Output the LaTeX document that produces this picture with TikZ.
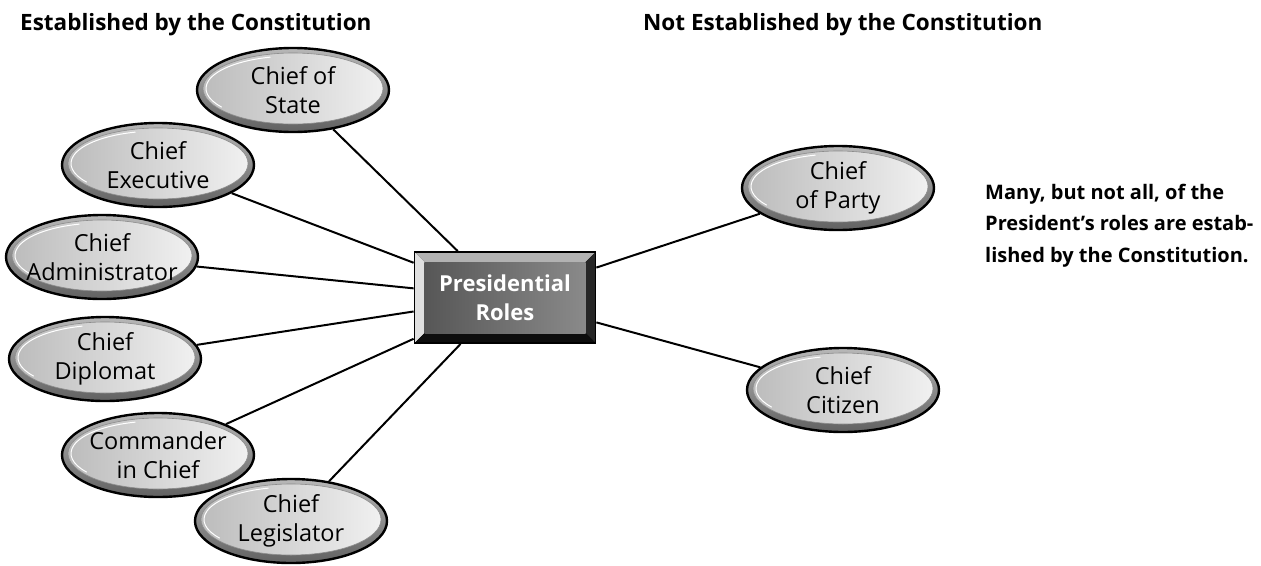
\documentclass[tikz,border=0pt]{standalone}
\usepackage{fontspec}
\setmainfont{Open Sans}
\usetikzlibrary{shapes.geometric}
\tikzset{
  roleoval/.style={ellipse, draw=black, line width=2.4pt,
    minimum width=192pt, minimum height=84pt, inner xsep=-25pt, inner ysep=-12pt,
    align=center, font=\fontsize{23.5}{28.5}\selectfont,
    top color=black!28, bottom color=black!62,
    path picture={
      \draw[black!45, line width=0.6pt, left color=black!27, right color=black!5]
        ([yshift=1.5pt]path picture bounding box.center) ellipse [x radius=90pt, y radius=35.5pt];
      \draw[white, line width=1pt]
        ([yshift=1.5pt, shift={(105:87pt and 32.5pt)}]path picture bounding box.center)
        arc [start angle=105, end angle=215, x radius=87pt, y radius=32.5pt];
    }},
  rolebox/.style={rectangle, draw=black, line width=1.8pt, fill=black,
    minimum width=181pt, minimum height=91pt, inner sep=0pt,
    align=center, text=white, font=\bfseries\fontsize{22}{29}\selectfont,
    path picture={
      \fill[black!12] (path picture bounding box.north west) -- (path picture bounding box.south west)
        -- ([shift={(10pt,10pt)}]path picture bounding box.south west)
        -- ([shift={(10pt,-10pt)}]path picture bounding box.north west) -- cycle;
      \fill[black!30] (path picture bounding box.north west) -- (path picture bounding box.north east)
        -- ([shift={(-10pt,-10pt)}]path picture bounding box.north east)
        -- ([shift={(10pt,-10pt)}]path picture bounding box.north west) -- cycle;
      \fill[black!85] (path picture bounding box.north east) -- (path picture bounding box.south east)
        -- ([shift={(-10pt,10pt)}]path picture bounding box.south east)
        -- ([shift={(-10pt,-10pt)}]path picture bounding box.north east) -- cycle;
      \fill[black!95] (path picture bounding box.south west) -- (path picture bounding box.south east)
        -- ([shift={(-10pt,10pt)}]path picture bounding box.south east)
        -- ([shift={(10pt,10pt)}]path picture bounding box.south west) -- cycle;
      \shade[left color=black!66, right color=black!46]
        ([shift={(10pt,-10pt)}]path picture bounding box.north west) rectangle
        ([shift={(-10pt,10pt)}]path picture bounding box.south east);
    }},
  link/.style={line width=2pt, black},
  heading/.style={font=\bfseries\fontsize{22.5}{26}\selectfont, anchor=base west, inner sep=0pt},
  note/.style={font=\bfseries\fontsize{20}{31.5}\selectfont, anchor=base west, inner sep=0pt, align=left},
}
\begin{document}
\begin{tikzpicture}[x=1pt, y=-1pt]
  \useasboundingbox (0,0) rectangle (1261,565);
  \node[heading] (h1) at (20,30) {Established by the Constitution};
  \node[heading] (h2) at (643,30) {Not Established by the Constitution};

  \node[rolebox] (box) at (505,297.5) {Presidential\\Roles};

  \node[roleoval] (state) at (293,90) {Chief of\\State};
  \node[roleoval] (exec) at (158,165) {Chief\\Executive};
  \node[roleoval] (admin) at (102,257) {Chief\\Administrator};
  \node[roleoval] (dipl) at (105,359) {Chief\\Diplomat};
  \node[roleoval] (cmd) at (158,455) {Commander\\in Chief};
  \node[roleoval] (legis) at (291,521) {Chief\\Legislator};
  \node[roleoval] (party) at (838,188) {Chief\\of Party};
  \node[roleoval] (citizen) at (843,390) {Chief\\Citizen};

  \foreach \n in {state,exec,admin,dipl,cmd,legis,party,citizen}
    \draw[link] (\n) -- (box);

  \node[note] (txt) at (985,262) {Many, but not all, of the\\President’s roles are estab-\\lished by the Constitution.};
\end{tikzpicture}
\end{document}
